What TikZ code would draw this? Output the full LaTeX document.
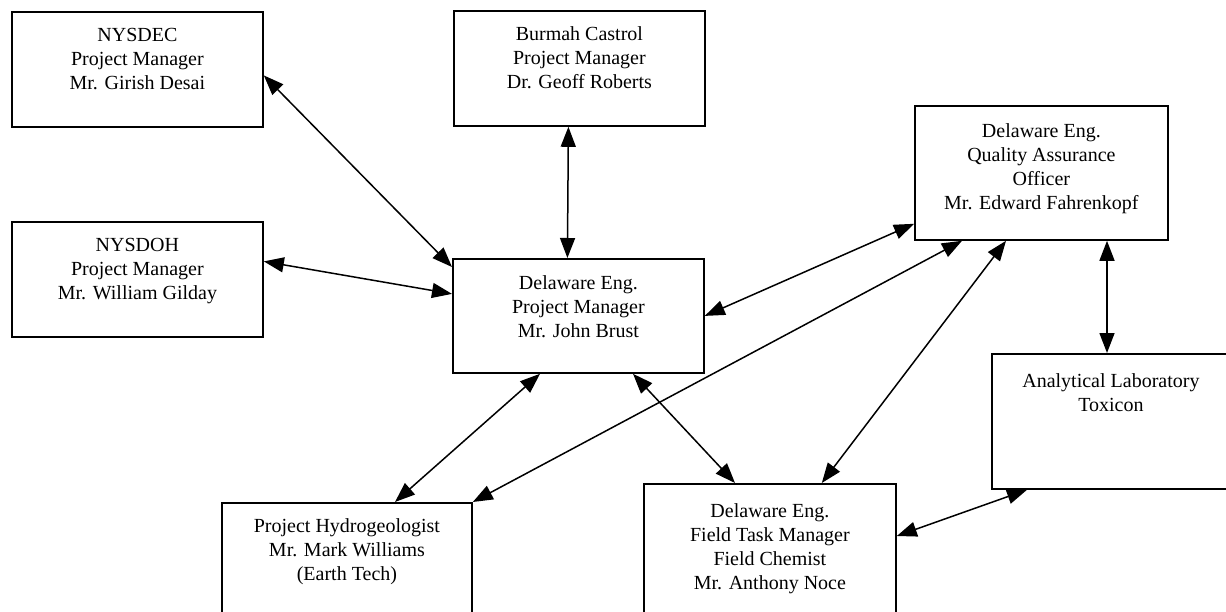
\documentclass[tikz,border=0pt]{standalone}
\usepackage{fontspec}
\setmainfont{Liberation Serif}
\usetikzlibrary{arrows.meta,positioning}
\tikzset{
  box/.style  = {rectangle, draw, line width=1.8pt, anchor=north west, inner sep=0},
  txt/.style  = {align=center, inner sep=0, font=\fontsize{20}{24}\selectfont},
  link/.style = {line width=1.5pt, {Triangle[length=20pt,width=15pt]}-{Triangle[length=20pt,width=15pt]}}
}
\begin{document}
\begin{tikzpicture}[x=1pt,y=-1pt]
  \useasboundingbox (0,0) rectangle (1226,612);
  \clip (0,0) rectangle (1226,612);
  % boxes
  \node[box, minimum width=251pt, minimum height=115pt] (dec)   at (11,11)   {};
  \node[box, minimum width=251pt, minimum height=115pt] (doh)   at (11,221)  {};
  \node[box, minimum width=251pt, minimum height=115pt] (bc)    at (453,10)  {};
  \node[box, minimum width=251pt, minimum height=114pt] (pm)    at (452,258) {};
  \node[box, minimum width=253pt, minimum height=134pt] (qa)    at (914,105) {};
  \node[box, minimum width=238pt, minimum height=135pt] (lab)   at (991,353) {};
  \node[box, minimum width=250pt, minimum height=140pt] (hydro) at (221,502) {};
  \node[box, minimum width=252pt, minimum height=160pt] (field) at (643,483) {};
  % texts
  \node[txt, below=17.5pt of dec.north]   (dect)   {NYSDEC\\Project Manager\\Mr. Girish Desai};
  \node[txt, below=17.5pt of doh.north]   (doht)   {NYSDOH\\Project Manager\\Mr. William Gilday};
  \node[txt, below=16.5pt of bc.north]    (bct)    {Burmah Castrol\\Project Manager\\Dr. Geoff Roberts};
  \node[txt, below=17.5pt of pm.north]    (pmt)    {Delaware Eng.\\Project Manager\\Mr. John Brust};
  \node[txt, below=18.5pt of qa.north]    (qat)    {Delaware Eng.\\Quality Assurance\\Officer\\Mr. Edward Fahrenkopf};
  \node[txt, below=20.5pt of lab.north]   (labt)   {Analytical Laboratory\\Toxicon};
  \node[txt, below=16.5pt of hydro.north] (hydrot) {Project Hydrogeologist\\Mr. Mark Williams\\(Earth Tech)};
  \node[txt, below=20pt of field.north]   (fieldt) {Delaware Eng.\\Field Task Manager\\Field Chemist\\Mr. Anthony Noce};
  % connectors
  \draw[link] ([yshift=-6pt]dec.east) -- ([yshift=-9pt]pm.north west);
  \draw[link] ([yshift=18pt]doh.east) -- ([yshift=22pt]pm.west);
  \draw[link] ([xshift=-11pt]bc.south) -- ([xshift=-11pt]pm.north);
  \draw[link] (pm.east) -- ([yshift=17pt]qa.south west);
  \draw[link] (hydro.north east) -- ([xshift=48pt]qa.south west);
  \draw[link] ([xshift=-75pt]field.north east) -- ([xshift=92pt]qa.south west);
  \draw[link] ([xshift=193pt]qa.south west) -- ([xshift=116pt]lab.north west);
  \draw[link] ([xshift=88pt]pm.south west) -- ([xshift=174pt]hydro.north west);
  \draw[link] ([xshift=181pt]pm.south west) -- ([xshift=92pt]field.north west);
  \draw[link] ([yshift=-53pt]field.north east) -- ([xshift=36pt]lab.south west);
\end{tikzpicture}
\end{document}
